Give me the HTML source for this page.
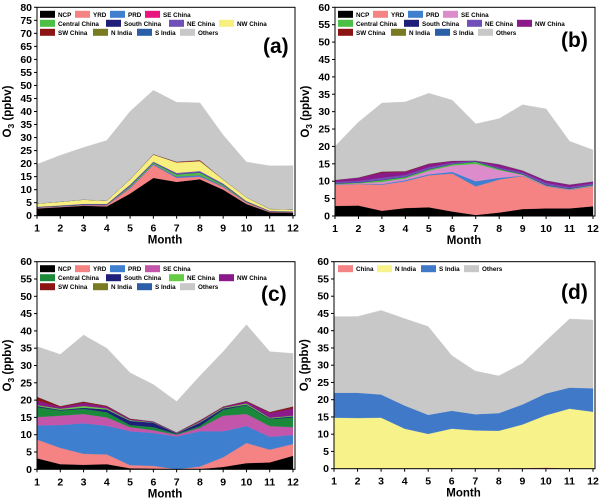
<!DOCTYPE html>
<html><head><meta charset="utf-8"><style>
html,body{margin:0;padding:0;background:#fff;}
svg{display:block;font-family:"Liberation Sans",Arial,sans-serif;}
</style></head><body>
<svg id="root" width="600" height="498" viewBox="0 0 600 498"></svg>
<script>
const months = [1,2,3,4,5,6,7,8,9,10,11,12];
// Panel (a)
const aNCP=[2.8,3.3,3.8,3.6,8.5,14.5,13,14,10,4.5,1.3,1.2];
const aYRD=[0.2,0.2,0.2,0.4,2,5,1.5,1,1,0.5,0.2,0.1];
const aPRD=[0.1,0.1,0.1,0.1,0.3,0.3,0.5,0.5,0.3,0.1,0.1,0.05];
const aSE=[0.05,0.05,0.05,0.05,0.05,0.05,0.05,0.05,0.05,0.05,0.05,0.05];
const aCentral=[0.1,0.1,0.1,0.1,0.5,0.5,0.8,1,0.5,0.2,0.1,0.1];
const aSouth=[0.1,0.1,0.1,0.1,0.1,0.1,0.1,0.1,0.1,0.1,0.05,0.05];
const aNE=[0.1,0.1,0.2,0.2,0.5,0.3,0.5,0.5,0.4,0.2,0.1,0.1];
const aNW=[1.2,1.4,1.6,1.2,2,2.7,4,3.8,1.5,1.4,0.7,0.7];
const aSW=[0.05,0.05,0.05,0.05,0.1,0.2,0.3,0.4,0.1,0.05,0.05,0.05];
const aNIndia=[0,0,0,0,0,0,0,0,0,0,0,0];
const aSIndia=[0,0,0,0,0,0,0,0,0,0,0,0];
const aOthers=[15,17.8,20,23.1,26,24.5,22.8,22,17,13.5,16.5,16.8];
// Panel (b)
const bNCP=[2.9,3.0,1.5,2.3,2.5,1.3,0.3,1.0,2.0,2.2,2.2,2.8];
const bYRD=[6.0,6.2,7.5,7.7,9.2,10.9,8.2,9.5,9.5,6.3,5.3,5.7];
const bPRD=[0.1,0.1,0.2,0.3,0.3,0.5,1.5,0.5,0.1,0.1,0.1,0.1];
const bSE=[0.1,0.1,0.6,0.5,1.0,1.8,5.0,2.2,0.2,0.1,0.1,0.1];
const bCentral=[0.2,0.2,0.5,0.4,0.4,0.4,0.6,0.3,0.2,0.1,0.1,0.2];
const bSouth=[0.1,0.1,0.1,0.1,0.1,0.1,0.1,0.1,0.1,0.1,0.1,0.1];
const bNE=[0.4,0.4,0.6,0.5,0.5,0.3,0.1,0.3,0.4,0.6,0.4,0.4];
const bNW=[0.5,0.9,1.5,0.9,0.9,0.5,0.1,0.9,0.5,0.7,0.7,0.5];
const bSW=[0.1,0.1,0.3,0.2,0.2,0.1,0.05,0.1,0.1,0.05,0.05,0.05];
const bNIndia=[0,0,0,0,0,0,0,0,0,0,0,0];
const bSIndia=[0,0,0,0,0,0,0,0,0,0,0,0];
const bOthers=[9.6,15.9,19.7,19.9,20.2,17.4,10.55,13.1,18.9,20.55,12.45,9.05];
// Panel (c)
const cNCP=[3.2,1.5,1.3,1.5,0.3,0.2,0,0.1,0.7,1.8,2,3.9];
const cYRD=[5.4,4.7,3.2,2.8,0.9,0.8,0,0.7,2.8,5.8,3.7,3.4];
const cPRD=[4.1,6.6,8.8,8.3,9.8,9.5,9.5,10.2,7.5,4.9,3.7,2.6];
const cSE=[2.4,2.7,2.7,2.4,1.2,0.8,0.5,1.0,4.5,3.5,3.1,2.3];
const cCentral=[2.9,1.5,1.5,1.5,0.6,0.9,0.2,0.5,1.7,2.5,2.0,2.8];
const cSouth=[0.3,0.2,0.3,0.8,1.2,1.3,0.2,1.0,0.4,0.2,0.2,0.3];
const cNE=[0.3,0.3,0.5,0.3,0.2,0.1,0.05,0.2,0.2,0.3,0.2,0.2];
const cNW=[1.3,0.5,0.9,0.5,0.3,0.2,0.15,0.3,0.2,0.6,1.4,2.1];
const cSW=[1.1,0.3,0.4,0.3,0.2,0.1,0.1,0.2,0.2,0.2,0.3,0.6];
const cNIndia=[0,0,0,0,0,0,0,0,0,0,0,0];
const cSIndia=[0,0,0,0,0,0,0,0,0,0,0,0];
const cOthers=[14.5,14.9,19.2,16.6,13.2,10.6,8.9,12.8,15.8,22,17.4,15.3];
// Panel (d)
const dChina=[0.1,0.1,0.1,0.1,0.1,0.1,0.1,0.1,0.15,0.35,0.1,0.1];
const dNIndia=[14.7,14.6,14.7,11.5,10,11.5,11,10.9,12.65,15.15,17.3,16.4];
const dSIndia=[7.2,7.3,6.7,6.7,5.5,5.2,4.7,5.1,5.8,6.3,6.1,6.8];
const dOthers=[22.1,22.1,24.4,25.2,25.6,16,12.5,10.8,11.9,15.2,19.9,19.8];

const NS='http://www.w3.org/2000/svg';
const root=document.getElementById('root');
function mk(tag,attrs,parent){const e=document.createElementNS(NS,tag);for(const k in attrs)e.setAttribute(k,attrs[k]);(parent||root).appendChild(e);return e;}

const names12=['NCP','YRD','PRD','SE China','Central China','South China','NE China','NW China','SW China','N India','S India','Others'];
const rows12=[[0,1,2,3],[4,5,6,7],[8,9,10,11]];
const cols12=[[3,38,73,108],[3,69,132,182],[3,56,100,143]];
const panels=[
 {id:'a',x0:37,x1:293,y0:215.7,yTop:7.3,ymax:80,lab:[263,53],
  series:[aNCP,aYRD,aPRD,aSE,aCentral,aSouth,aNE,aNW,aSW,aNIndia,aSIndia,aOthers],names:names12,
  colors:['#000000','#f58383','#3f7fd0','#e8157e','#4cbf45','#1f1f7a','#7050b8','#f7f07e','#8b1414','#7a7a22','#2a5fa8','#c8c8c8'],
  rows:rows12,cols:cols12},
 {id:'b',x0:335,x1:593,y0:216,yTop:7.3,ymax:60,lab:[561,47],
  series:[bNCP,bYRD,bPRD,bSE,bCentral,bSouth,bNE,bNW,bSW,bNIndia,bSIndia,bOthers],names:names12,
  colors:['#000000','#f58383','#3f7fd0','#dd8ccb','#4cbf45','#1f1f7a','#7050b8','#8a1a8a','#8b1414','#7a7a22','#2a5fa8','#c8c8c8'],
  rows:rows12,cols:cols12},
 {id:'c',x0:37,x1:293,y0:469.3,yTop:261.7,ymax:60,lab:[261,301],
  series:[cNCP,cYRD,cPRD,cSE,cCentral,cSouth,cNE,cNW,cSW,cNIndia,cSIndia,cOthers],names:names12,
  colors:['#000000','#f58383','#3f7fd0','#c356ab','#1a8a3a','#1f1f7a','#66cc44','#8a1a8a','#8b1414','#7a7a22','#2a5fa8','#c8c8c8'],
  rows:rows12,cols:cols12},
 {id:'d',x0:334,x1:593,y0:468.7,yTop:261.7,ymax:60,lab:[561,299],
  series:[dChina,dNIndia,dSIndia,dOthers],names:['China','N India','S India','Others'],
  colors:['#f58383','#f8f28a','#3f79c8','#c8c8c8'],
  rows:[[0,1,2,3]],cols:[[4,43,87,130]]}
];

panels.forEach(p=>{
  const g=mk('g',{});
  
  
  const xs=m=>p.x0+(m-1)*(p.x1-p.x0)/11;
  const ys=v=>p.y0-v*(p.y0-p.yTop)/p.ymax;
  let base=months.map(()=>0);
  p.series.forEach((s,i)=>{
    const top=base.map((b,j)=>b+s[j]);
    let d='M'+months.map((m,j)=>xs(m).toFixed(2)+','+ys(top[j]).toFixed(2)).join(' L');
    for(let j=11;j>=0;j--) d+=' L'+xs(months[j]).toFixed(2)+','+ys(base[j]).toFixed(2);
    d+='Z';
    const a=mk('path',{d:d,fill:p.colors[i],stroke:p.colors[i],'stroke-width':0.3},g);
    
    
    base=top;
  });
  const fr=mk('rect',{x:p.x0,y:p.yTop,width:p.x1-p.x0+2,height:p.y0-p.yTop,fill:'none',stroke:'#000','stroke-width':1},g);
  
  
  for(let v=0;v<=p.ymax;v+=5){
    mk('line',{x1:p.x0-3,x2:p.x0,y1:ys(v),y2:ys(v),stroke:'#000','stroke-width':1},g);
    const t=mk('text',{x:p.x0-5,y:ys(v)+3.5,'text-anchor':'end','font-size':10.5,'font-weight':'bold'},g);
    t.textContent=v;
    
    
  }
  months.forEach(m=>{
    mk('line',{x1:xs(m),x2:xs(m),y1:p.y0,y2:p.y0+3,stroke:'#000','stroke-width':1},g);
    const t=mk('text',{x:xs(m),y:p.y0+16,'text-anchor':'middle','font-size':10.5,'font-weight':'bold'},g);
    t.textContent=m;
    
    
  });
  const xt=mk('text',{x:(p.x0+p.x1)/2,y:p.y0+28,'text-anchor':'middle','font-size':11.5,'font-weight':'bold'},g);
  xt.textContent='Month';
  
  
  const cy=(p.y0+p.yTop)/2, cx=p.x0-26;
  const yt=mk('text',{x:cx,y:cy,'text-anchor':'middle','font-size':11.5,'font-weight':'bold',transform:'rotate(-90 '+cx+' '+cy+')'},g);
  yt.innerHTML='O<tspan font-size="8.5" dy="3">3</tspan><tspan dy="-3"> (ppbv)</tspan>';
  
  
  const lb=mk('text',{x:p.lab[0],y:p.lab[1],'font-size':21,'font-weight':'bold'},g);
  lb.textContent='('+p.id+')';
  
  
  p.rows.forEach((row,ri)=>{
    const y=p.yTop+3.5+ri*9;
    row.forEach((i,ci)=>{
      const x=p.x0+p.cols[ri][ci];
      const lg=mk('g',{},g);
      
      
      mk('rect',{x:x,y:y,width:15,height:7,fill:p.colors[i]},lg);
      const t=mk('text',{x:x+18,y:y+6,'font-size':6.3,'font-weight':'bold'},lg);
      t.textContent=p.names[i];
    });
  });
});
</script>
</body></html>
